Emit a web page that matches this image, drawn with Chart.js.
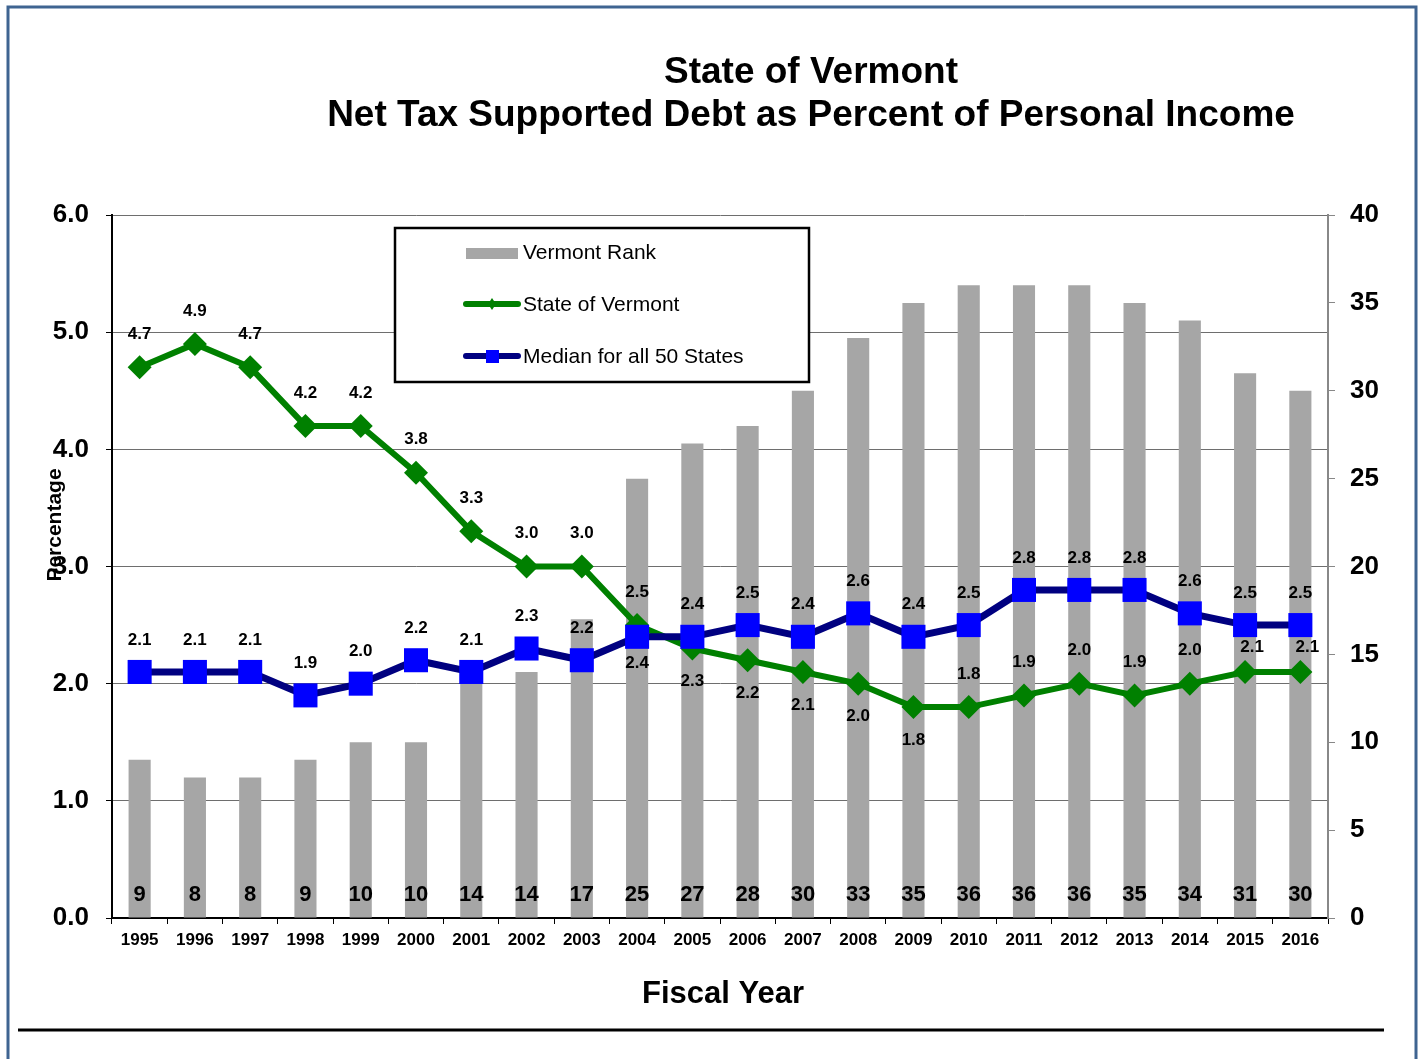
<!DOCTYPE html>
<html>
<head>
<meta charset="utf-8">
<script src="https://cdn.jsdelivr.net/npm/chart.js@4.4.1/dist/chart.umd.min.js"></script>
<style>
html,body{margin:0;padding:0;background:#fff;}
</style>
</head>
<body>
<canvas id="chart" width="1424" height="1059"></canvas>
<script>
// chart values
const years = ['1995','1996','1997','1998','1999','2000','2001','2002','2003','2004','2005',
  '2006','2007','2008','2009','2010','2011','2012','2013','2014','2015','2016'];
const vermontRank = [9,8,8,9,10,10,14,14,17,25,27,28,30,33,35,36,36,36,35,34,31,30];
const stateOfVermont = [4.7,4.9,4.7,4.2,4.2,3.8,3.3,3.0,3.0,2.5,2.3,2.2,2.1,2.0,1.8,1.8,1.9,2.0,1.9,2.0,2.1,2.1];
const medianAllStates = [2.1,2.1,2.1,1.9,2.0,2.2,2.1,2.3,2.2,2.4,2.4,2.5,2.4,2.6,2.4,2.5,2.8,2.8,2.8,2.6,2.5,2.5];
const pctTicks = [0,1,2,3,4,5,6];
const rankTicks = [0,5,10,15,20,25,30,35,40];

const FONT = '"Liberation Sans", Arial, sans-serif';
const GREEN = '#008000', NAVY = '#000080', BLUE = '#0000FF', GRAY = '#A6A6A6';

// which labels sit under their point, and the squeezed ones at the end
const greenBelow = ['2005','2006','2007','2008','2009'];
const greenSqueezed = ['2015','2016'];
const blueBelow = ['2004'];

const decor = {
  id: 'decor',
  beforeDraw(chart) {
    const c = chart.ctx;
    c.save();
    c.fillStyle = '#fff';
    c.fillRect(0, 0, chart.width, chart.height);
    // outer frame
    c.strokeStyle = '#3F6491';
    c.lineWidth = 3;
    c.strokeRect(8, 7, 1408, 1080);
    // bottom rule
    c.strokeStyle = '#000';
    c.lineWidth = 3;
    c.beginPath(); c.moveTo(18, 1030); c.lineTo(1384, 1030); c.stroke();
    // title
    c.fillStyle = '#000';
    c.textAlign = 'center';
    c.textBaseline = 'middle';
    c.font = 'bold 37px ' + FONT;
    c.fillText('State of Vermont', 811, 73);
    c.fillText('Net Tax Supported Debt as Percent of Personal Income', 811, 116);
    // axis titles
    c.font = 'bold 31px ' + FONT;
    c.fillText('Fiscal Year', 723, 994);
    c.save();
    c.translate(55, 525);
    c.rotate(-Math.PI / 2);
    c.font = 'bold 21px ' + FONT;
    c.fillText('Percentage', 0, 0);
    c.restore();
    c.restore();
  },
  afterDatasetsDraw(chart) {
    const c = chart.ctx;
    const area = chart.chartArea;
    c.save();
    c.fillStyle = '#000';
    c.textAlign = 'center';
    c.textBaseline = 'middle';
    // rank labels inside bars
    c.font = 'bold 22px ' + FONT;
    chart.getDatasetMeta(0).data.forEach((el, i) => {
      c.fillText(String(vermontRank[i]), el.x, area.bottom - 23);
    });
    c.font = 'bold 17px ' + FONT;
    chart.getDatasetMeta(1).data.forEach((el, i) => {
      let dy = greenBelow.includes(years[i]) ? 33 : -33;
      let dx = 0;
      if (greenSqueezed.includes(years[i])) { dy = -25; dx = 7; }
      c.fillText(stateOfVermont[i].toFixed(1), el.x + dx, el.y + dy);
    });
    chart.getDatasetMeta(2).data.forEach((el, i) => {
      const dy = blueBelow.includes(years[i]) ? 27 : -32;
      c.fillText(medianAllStates[i].toFixed(1), el.x, el.y + dy);
    });

    // legend box
    c.fillStyle = '#fff';
    c.fillRect(395, 228, 414, 154);
    c.strokeStyle = '#000';
    c.lineWidth = 2.5;
    c.strokeRect(395, 228, 414, 154);
    c.fillStyle = GRAY;
    c.fillRect(466, 248, 52, 11);
    c.lineCap = 'round';
    c.lineWidth = 6;
    c.strokeStyle = GREEN;
    c.beginPath(); c.moveTo(466, 304); c.lineTo(518, 304); c.stroke();
    c.fillStyle = GREEN;
    c.beginPath();
    c.moveTo(492, 298); c.lineTo(496, 304); c.lineTo(492, 310); c.lineTo(488, 304);
    c.closePath(); c.fill();
    c.strokeStyle = NAVY;
    c.beginPath(); c.moveTo(466, 356); c.lineTo(518, 356); c.stroke();
    c.fillStyle = BLUE;
    c.fillRect(486, 350, 13, 13);
    c.fillStyle = '#000';
    c.textAlign = 'left';
    c.font = '21px ' + FONT;
    c.fillText('Vermont Rank', 523, 253);
    c.fillText('State of Vermont', 523, 305);
    c.fillText('Median for all 50 States', 523, 357);
    c.restore();
  }
};

new Chart(document.getElementById('chart'), {
  type: 'bar',
  data: {
    labels: years,
    datasets: [
      {
        type: 'bar',
        label: 'Vermont Rank',
        data: vermontRank,
        yAxisID: 'y2',
        backgroundColor: GRAY,
        barPercentage: 0.4,
        categoryPercentage: 1,
        order: 3
      },
      {
        type: 'line',
        label: 'State of Vermont',
        data: stateOfVermont,
        yAxisID: 'y',
        borderColor: GREEN,
        borderWidth: 6,
        backgroundColor: GREEN,
        pointStyle: 'rectRot',
        pointRadius: 12,
        pointBorderWidth: 0,
        tension: 0,
        order: 2
      },
      {
        type: 'line',
        label: 'Median for all 50 States',
        data: medianAllStates,
        yAxisID: 'y',
        borderColor: NAVY,
        borderWidth: 7,
        backgroundColor: BLUE,
        pointBackgroundColor: BLUE,
        pointStyle: 'rect',
        pointRadius: 17,
        pointBorderWidth: 0,
        tension: 0,
        order: 1
      }
    ]
  },
  options: {
    responsive: false,
    animation: false,
    layout: { padding: { top: 215, bottom: 101, left: 0, right: 0 } },
    plugins: {
      legend: { display: false },
      title: { display: false },
      tooltip: { enabled: false }
    },
    scales: {
      x: {
        offset: true,
        grid: { display: true, drawOnChartArea: false, offset: true, tickLength: 6, color: '#000', lineWidth: 1 },
        border: { color: '#000', width: 2 },
        ticks: { color: '#000', padding: 6, maxRotation: 0, autoSkip: false, font: { family: FONT, size: 17, weight: 'bold' } },
        afterFit(s) { s.height = 40; }
      },
      y: {
        position: 'left',
        min: 0, max: 6,
        afterBuildTicks(s) { s.ticks = pctTicks.map(v => ({ value: v })); },
        grid: {
          color: '#6E6E6E', lineWidth: 1, tickLength: 6,
          tickColor: '#000'
        },
        border: { color: '#000', width: 2 },
        ticks: { color: '#000', padding: 17, callback: v => Number(v).toFixed(1), font: { family: FONT, size: 26, weight: 'bold' } },
        afterFit(s) { s.width = 112; }
      },
      y2: {
        position: 'right',
        min: 0, max: 40,
        afterBuildTicks(s) { s.ticks = rankTicks.map(v => ({ value: v })); },
        grid: { drawOnChartArea: false, tickLength: 7, color: '#888' },
        border: { color: '#888', width: 2 },
        ticks: { color: '#000', padding: 15, font: { family: FONT, size: 26, weight: 'bold' } },
        afterFit(s) { s.width = 96; }
      }
    }
  },
  plugins: [decor]
});
</script>
</body>
</html>
